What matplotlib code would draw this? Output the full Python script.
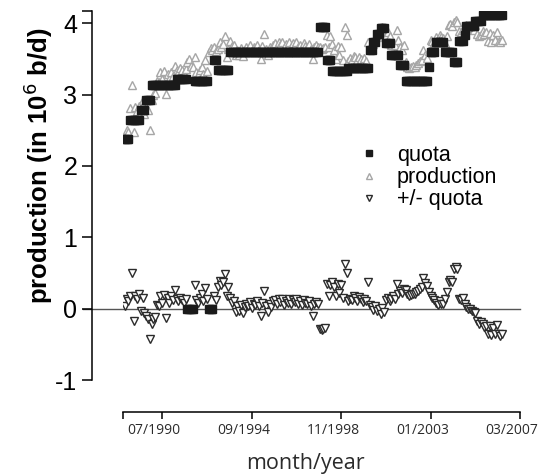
import numpy as np
import pandas as pd
import matplotlib
matplotlib.use('Agg')
import matplotlib.pyplot as plt
import matplotlib.transforms as mtransforms

nan = np.nan

# monthly values, Oct 1988 .. May 2006 (one line per year)
quota = [
    2.37, 2.37, 2.37,
    2.64, 2.64, 2.64, 2.64, 2.64, 2.64, 2.78, 2.78, 2.78, 2.92, 2.92, 2.92,
    3.14, 3.14, 3.14, 3.14, 3.14, 3.14, 3.14, 3.14, 3.14, 3.14, 3.14, 3.14,
    3.14, 3.14, 3.22, 3.22, 3.22, 3.22, 3.22, 3.22, 0, 0, 0, 0,
    3.19, 3.19, 3.19, 3.19, 3.19, 3.19, 3.19, 3.19, 0, 0, 0, 3.49,
    3.49, 3.34, 3.34, 3.34, 3.34, 3.34, 3.34, 3.34, 3.60, 3.60, 3.60, 3.60,
    3.60, 3.60, 3.60, 3.60, 3.60, 3.60, 3.60, 3.60, 3.60, 3.60, 3.60, 3.60,
    3.60, 3.60, 3.60, 3.60, 3.60, 3.60, 3.60, 3.60, 3.60, 3.60, 3.60, 3.60,
    3.60, 3.60, 3.60, 3.60, 3.60, 3.60, 3.60, 3.60, 3.60, 3.60, 3.60, 3.60,
    3.60, 3.60, 3.60, 3.60, 3.60, 3.60, 3.60, 3.60, 3.60, 3.60, 3.94, 3.94,
    3.94, 3.94, 3.49, 3.49, 3.49, 3.33, 3.33, 3.33, 3.33, 3.33, 3.33, 3.33,
    3.33, 3.33, 3.37, 3.37, 3.37, 3.37, 3.37, 3.37, 3.37, 3.37, 3.37, 3.37,
    3.37, 3.37, 3.62, 3.62, 3.73, 3.73, 3.85, 3.85, 3.93, 3.93, 3.93, 3.72,
    3.72, 3.72, 3.56, 3.56, 3.56, 3.56, 3.56, 3.41, 3.41, 3.41, 3.19, 3.19,
    3.19, 3.19, 3.19, 3.19, 3.19, 3.19, 3.19, 3.19, 3.19, 3.19, 3.19, 3.38,
    3.60, 3.60, 3.60, 3.73, 3.73, 3.73, 3.73, 3.73, 3.59, 3.59, 3.59, 3.59,
    3.59, 3.46, 3.46, 3.46, 3.75, 3.75, 3.75, 3.84, 3.96, 3.96, 3.96, 3.96,
    3.96, 4.03, 4.03, 4.03, 4.03, 4.11, 4.11, 4.11, 4.11, 4.11, 4.11, 4.11,
    4.11, 4.11, 4.11, 4.11, 4.11,
]

production = [
    2.41, 2.50, 2.47,
    2.81, 3.14, 2.47, 2.82, 2.77, 2.84, 2.75, 2.93, 2.72, 2.82, 2.78, 2.50,
    2.92, 2.99, 3.02, 3.19, 3.17, 3.32, 3.22, 3.33, 3.01, 3.29, 3.22, 3.31,
    3.26, 3.40, 3.35, 3.32, 3.37, 3.34, 3.30, 3.36, 3.45, 3.50, 3.40, 3.38,
    3.52, 3.31, 3.27, 3.34, 3.39, 3.29, 3.48, 3.33, 3.60, 3.65, 3.62, 3.67,
    3.61, 3.64, 3.73, 3.67, 3.71, 3.82, 3.52, 3.64, 3.75, 3.68, 3.70, 3.55,
    3.63, 3.56, 3.65, 3.54, 3.62, 3.66, 3.64, 3.69, 3.61, 3.67, 3.65, 3.70,
    3.63, 3.50, 3.68, 3.85, 3.64, 3.55, 3.66, 3.62, 3.70, 3.72, 3.67, 3.74,
    3.69, 3.73, 3.65, 3.71, 3.68, 3.74, 3.66, 3.72, 3.69, 3.73, 3.67, 3.70,
    3.65, 3.72, 3.68, 3.66, 3.71, 3.64, 3.50, 3.67, 3.69, 3.66, 3.66, 3.64,
    3.65, 3.67, 3.84, 3.66, 3.82, 3.71, 3.63, 3.50, 3.68, 3.55, 3.66, 3.48,
    3.95, 3.83, 3.47, 3.51, 3.49, 3.54, 3.52, 3.48, 3.53, 3.50, 3.46, 3.51,
    3.47, 3.74, 3.67, 3.64, 3.71, 3.76, 3.81, 3.85, 3.85, 3.94, 3.88, 3.84,
    3.87, 3.82, 3.69, 3.74, 3.70, 3.91, 3.76, 3.66, 3.63, 3.69, 3.45, 3.39,
    3.37, 3.38, 3.40, 3.39, 3.42, 3.44, 3.47, 3.49, 3.62, 3.55, 3.51, 3.61,
    3.77, 3.75, 3.72, 3.81, 3.78, 3.83, 3.80, 3.79, 3.72, 3.82, 3.97, 3.99,
    3.96, 4.01, 4.04, 4.02, 3.89, 3.87, 3.90, 3.90, 3.98, 3.95, 3.96, 3.93,
    3.91, 3.97, 3.85, 3.82, 3.84, 3.89, 3.85, 3.87, 3.75, 3.86, 3.74, 3.84,
    3.76, 3.88, 3.75, 3.73, 3.76,
]

deviation = [
    0.04, 0.13, 0.10,
    0.17, 0.50, -0.17, 0.18, 0.13, 0.20, -0.03, 0.15, -0.06, -0.10, -0.14, -0.42,
    -0.22, -0.15, -0.12, 0.05, 0.03, 0.18, 0.08, 0.19, -0.13, 0.15, 0.08, 0.17,
    0.12, 0.26, 0.13, 0.10, 0.15, 0.12, 0.08, 0.14, nan, nan, nan, nan,
    0.33, 0.12, 0.08, 0.15, 0.20, 0.10, 0.29, 0.14, nan, nan, nan, 0.18,
    0.12, 0.30, 0.39, 0.33, 0.37, 0.48, 0.18, 0.30, 0.15, 0.08, 0.10, -0.05,
    0.03, -0.04, 0.05, -0.06, 0.02, 0.06, 0.04, 0.09, 0.01, 0.07, 0.05, 0.10,
    0.03, -0.10, 0.08, 0.25, 0.04, -0.05, 0.06, 0.02, 0.10, 0.12, 0.07, 0.14,
    0.09, 0.13, 0.05, 0.11, 0.08, 0.14, 0.06, 0.12, 0.09, 0.13, 0.07, 0.10,
    0.05, 0.12, 0.08, 0.06, 0.11, 0.04, -0.10, 0.07, 0.09, 0.06, -0.28, -0.30,
    -0.29, -0.27, 0.35, 0.17, 0.33, 0.38, 0.30, 0.17, 0.35, 0.22, 0.33, 0.15,
    0.62, 0.50, 0.10, 0.14, 0.12, 0.17, 0.15, 0.11, 0.16, 0.13, 0.09, 0.14,
    0.10, 0.37, 0.05, 0.02, -0.02, 0.03, -0.04, 0.00, -0.08, 0.01, -0.05, 0.12,
    0.15, 0.10, 0.13, 0.18, 0.14, 0.35, 0.20, 0.25, 0.22, 0.28, 0.26, 0.20,
    0.18, 0.19, 0.21, 0.20, 0.23, 0.25, 0.28, 0.30, 0.43, 0.36, 0.32, 0.23,
    0.17, 0.15, 0.12, 0.08, 0.05, 0.10, 0.07, 0.06, 0.13, 0.23, 0.38, 0.40,
    0.37, 0.55, 0.58, 0.56, 0.14, 0.12, 0.15, 0.06, 0.02, -0.01, 0.00, -0.03,
    -0.05, -0.06, -0.18, -0.21, -0.19, -0.22, -0.26, -0.24, -0.36, -0.25, -0.37, -0.27,
    -0.35, -0.23, -0.36, -0.38, -0.35,
]

months = pd.date_range('1988-10-01', periods=len(quota), freq='MS')

tick_dates = pd.to_datetime(['1988-09-01', '1990-07-01', '1994-09-01',
                             '1998-11-01', '2003-01-01', '2007-03-01'])
tick_labels = ['', '07/1990', '09/1994', '11/1998', '01/2003', '03/2007']
y_ticks = [-1, 0, 1, 2, 3, 4, 4.17]
y_labels = ['-1', '0', '1', '2', '3', '4', '']

plt.rcParams['font.family'] = ['Liberation Sans', 'DejaVu Sans']

fig = plt.figure(figsize=(5.38, 4.75), dpi=100)
ax = fig.add_axes([123 / 538, 95 / 475, 397 / 538, 369 / 475])

ax.axhline(0, xmin=-0.1, xmax=1.0, color='#555555', lw=1.0, clip_on=False, zorder=1)

ax.plot(months, quota, ls='none', marker='s', ms=5.2, color='#1a1a1a',
        mec='#1a1a1a', label='quota', zorder=3)
ax.plot(months, production, ls='none', marker='^', ms=5.5, mfc='white',
        mec='#a6a6a6', mew=1.0, label='production', zorder=2)
ax.plot(months, deviation, ls='none', marker='v', ms=5.5, mfc='white',
        mec='#2b2b2b', mew=1.0, label='+/- quota', zorder=2)

ax.set_xlim(tick_dates[0], tick_dates[-1])
ax.set_ylim(-1, 4.17)

for s in ['top', 'right']:
    ax.spines[s].set_visible(False)
ax.spines['left'].set_position(('outward', 22))
ax.spines['bottom'].set_position(('outward', 23))
ax.spines['left'].set_linewidth(1.1)
ax.spines['bottom'].set_linewidth(1.1)

ax.set_yticks(y_ticks)
ax.set_yticklabels(y_labels, fontsize=18)
ax.tick_params(axis='y', direction='out', length=7, width=1.1, pad=4)

ax.set_xticks(tick_dates)
ax.set_xticklabels(tick_labels, fontsize=10, family='Open Sans', color='#2b2b2b')
ax.tick_params(axis='x', direction='out', length=5, width=1.1, pad=3)
# labels sit a little left of their ticks in the original
shift = mtransforms.ScaledTranslation(-8 / 100, 0, fig.dpi_scale_trans)
for lab in ax.get_xticklabels():
    lab.set_transform(lab.get_transform() + shift)

ax.set_ylabel('production (in 10$^6$ b/d)', fontsize=18.5, fontweight='bold')
ax.yaxis.set_label_coords((55 - 123) / 397, (380 - 166) / 369)
ax.set_xlabel('month/year', fontsize=15.5, family='Open Sans', color='#2b2b2b')
ax.xaxis.set_label_coords((305 - 123) / 397, (380 - 453) / 369)

fig.legend(loc='upper left', bbox_to_anchor=(358 / 538, 1 - 145 / 475), frameon=False,
           fontsize=15.5, handlelength=1.0, handletextpad=0.8, labelspacing=0.05,
           borderpad=0, borderaxespad=0, markerscale=0.8)

fig.savefig('out.png', dpi=100)
